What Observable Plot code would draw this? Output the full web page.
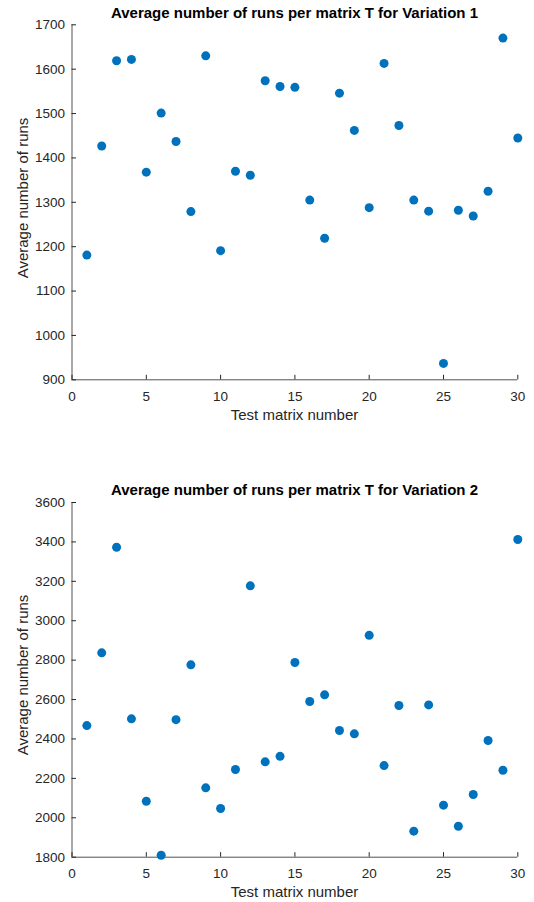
<!DOCTYPE html>
<html><head><meta charset="utf-8">
<script src="https://cdn.jsdelivr.net/npm/d3@7"></script>
<script src="https://cdn.jsdelivr.net/npm/@observablehq/plot@0.6"></script>
<style>
body{margin:0;background:#fff;}
#wrap{position:relative;width:534px;height:902px;font-family:"Liberation Sans",Arial,Helvetica,sans-serif;overflow:hidden;}
.plot{position:absolute;left:0;}
.t{position:absolute;white-space:nowrap;line-height:1;color:#262626;}
.title{font-weight:bold;font-size:15px;color:#000;transform:translateX(-50%);}
.xl{font-size:15px;transform:translateX(-50%);}
.yl{font-size:15px;transform:translate(-50%,-50%) rotate(-90deg);}
</style></head><body><div id="wrap"></div>
<script>
const testMatrixNumber = [1,2,3,4,5,6,7,8,9,10,11,12,13,14,15,16,17,18,19,20,21,22,23,24,25,26,27,28,29,30];
const runsVariation1 = [1181,1427,1619,1622,1368,1501,1437,1279,1630,1191,1370,1361,1574,1561,1559,1305,1219,1546,1462,1288,1613,1473,1305,1280,937,1282,1269,1325,1670,1445];
const runsVariation2 = [2468,2837,3373,2502,2084,1810,2498,2776,2152,2047,2245,3177,2284,2312,2788,2590,2624,2443,2426,2926,2265,2570,1932,2573,2064,1957,2118,2392,2241,3412];
const xTicks = [0,5,10,15,20,25,30];
const yTicks1 = [900,1000,1100,1200,1300,1400,1500,1600,1700];
const yTicks2 = [1800,2000,2200,2400,2600,2800,3000,3200,3400,3600];
const titles = ["Average number of runs per matrix T for Variation 1","Average number of runs per matrix T for Variation 2"];
const xLabel = "Test matrix number";
const yLabel = "Average number of runs";

const wrap = document.getElementById("wrap");
const FONT = '"Liberation Sans",Arial,Helvetica,sans-serif';

function makePlot(values, yTicks, top, height, mt, mb) {
  const data = testMatrixNumber.map((n, i) => ({n, v: values[i]}));
  const yDomain = [yTicks[0], yTicks[yTicks.length - 1]];
  const p = Plot.plot({
    width: 534, height,
    marginLeft: 71.5, marginRight: 16.7, marginTop: mt, marginBottom: mb,
    style: {fontFamily: FONT, fontSize: "13.5px", color: "#262626", background: "transparent", overflow: "visible"},
    x: {domain: [0, 30], ticks: xTicks, tickFormat: d => String(d), tickSize: -4.5, tickPadding: 16.2, label: null},
    y: {domain: yDomain, ticks: yTicks, tickFormat: d => String(d), tickSize: -4.5, tickPadding: 11.5, label: null},
    marks: [
      Plot.ruleX([0], {stroke: "#262626", strokeWidth: 0.8}),
      Plot.ruleY([yDomain[0]], {stroke: "#262626", strokeWidth: 0.8}),
      Plot.dot(data, {x: "n", y: "v", r: 4.5, fill: "#0072BD"})
    ]
  });
  p.classList.add("plot");
  p.style.top = top + "px";
  wrap.appendChild(p);
}

function addText(cls, txt, left, top) {
  const d = document.createElement("div");
  d.className = "t " + cls;
  d.textContent = txt;
  d.style.left = left + "px";
  d.style.top = top + "px";
  wrap.appendChild(d);
}

makePlot(runsVariation1, yTicks1, 0, 420, 24.3, 40.7);
makePlot(runsVariation2, yTicks2, 460, 442, 42, 45.3);

addText("title", titles[0], 294.5, 4.6);
addText("title", titles[1], 294.5, 482.3);
addText("xl", xLabel, 294.5, 406.6);
addText("xl", xLabel, 294.5, 884);
addText("yl", yLabel, 22, 197.5);
addText("yl", yLabel, 22, 675);
</script></body></html>
